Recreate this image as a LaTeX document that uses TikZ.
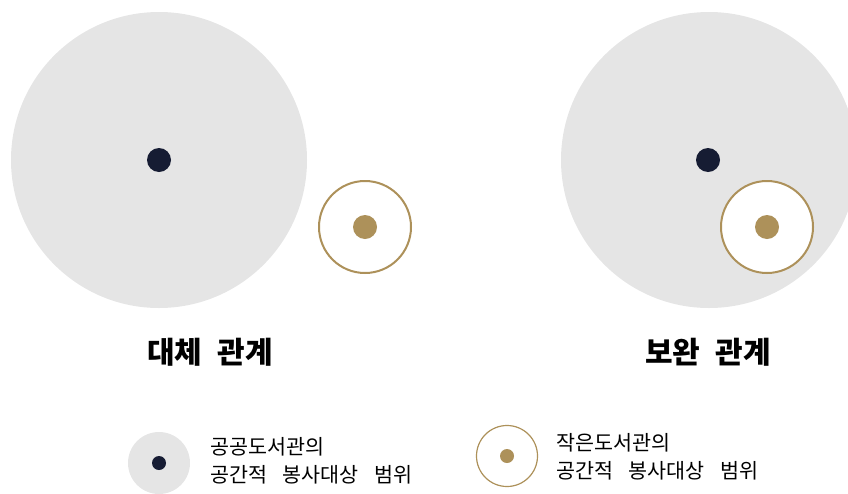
\documentclass[tikz,border=0pt]{standalone}
\usepackage{fontspec}
\setmainfont{Noto Sans CJK KR}
\definecolor{scopegray}{RGB}{229,229,229}
\definecolor{publicnavy}{RGB}{22,28,51}
\definecolor{smallgold}{RGB}{173,145,90}
\usepackage{tikz}
\usetikzlibrary{positioning}

\tikzset{
  bigscope/.style={circle,fill=scopegray,draw=none,minimum size=222pt,inner sep=0pt},
  smallscope/.style={circle,fill=white,draw=smallgold,line width=1.5pt,minimum size=69pt,inner sep=0pt},
  navydot/.style={circle,fill=publicnavy,minimum size=18pt,inner sep=0pt},
  golddot/.style={circle,fill=smallgold,minimum size=18pt,inner sep=0pt},
  titletext/.style={font=\fontsize{22.5}{26}\selectfont\bfseries},
  legendtext/.style={font=\fontsize{15.5}{21}\selectfont,align=left,anchor=west,inner sep=0pt}
}

\begin{document}
\begin{tikzpicture}[x=0.75pt,y=-0.75pt]
  \useasboundingbox (0,0) rectangle (848,493);
  \clip (0,0) rectangle (848,493);

  % Left: substitution
  \node[bigscope] (subbig) at (159,160) {};
  \node[navydot] (subpublic) at (159,160) {};
  \node[smallscope] (subsmall) at (365,227) {};
  \node[golddot] (subgold) at (365,227) {};
  \node[titletext] (subtitle) at (210,352) {대체\hspace{0.5em}관계};

  % Right: complement
  \node[bigscope] (combig) at (709,160) {};
  \node[navydot] (compublic) at (708,160) {};
  \node[smallscope] (comsmall) at (767,227) {};
  \node[golddot] (comgold) at (767,227) {};
  \node[titletext] (comtitle) at (708,352) {보완\hspace{0.5em}관계};

  % Legend
  \node[bigscope,minimum size=46.5pt] (legpublic) at (159,463) {};
  \node[navydot,minimum size=10.5pt] (legpublicdot) at (159,463) {};
  \node[legendtext] (legpublictext) at (210,461)
    {공공도서관의\\공간적\hspace{0.75em}봉사대상\hspace{0.75em}범위};

  \node[smallscope,line width=0.9pt,minimum size=45.75pt] (legsmall) at (507,456) {};
  \node[golddot,minimum size=10.5pt] (legsmalldot) at (507,456) {};
  \node[legendtext] (legsmalltext) at (556,457)
    {작은도서관의\\공간적\hspace{0.75em}봉사대상\hspace{0.75em}범위};
\end{tikzpicture}
\end{document}
